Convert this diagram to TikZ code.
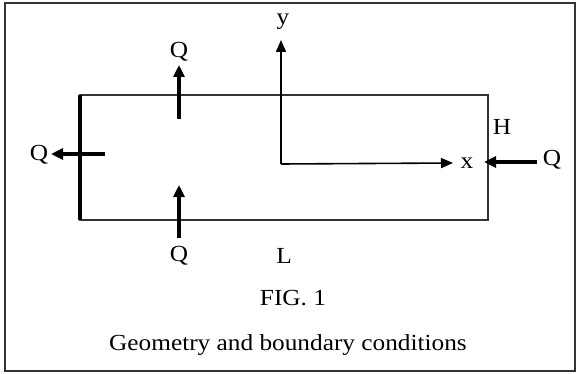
\documentclass[tikz,border=0pt]{standalone}
\usepackage{fontspec}
\setmainfont[FakeStretch=1.1]{Liberation Serif}
\usetikzlibrary{arrows.meta}
\begin{document}
\begin{tikzpicture}[x=1pt,y=-1pt,
  lbl/.style={font=\fontsize{23}{26}\selectfont, inner sep=0pt},
  qarrow/.style={line width=3.1pt, -{Triangle[length=12pt,width=11pt]}},
  axis/.style={line width=1.6pt, -{Triangle[length=12pt,width=10pt]}},
  plate/.style={line width=1.4pt, draw=black!80}]
\useasboundingbox (0,0) rectangle (580,374);
\draw[line width=1.6pt, draw=black!80] (5,3) rectangle (575,371);
% plate
\coordinate (tl) at (80,95);
\coordinate (br) at (488,220);
\coordinate (bl) at (80,220);
\draw[plate] (tl) rectangle (br);
\draw[line width=3.8pt, line cap=butt] (tl) -- (bl);
% axes
\coordinate (o) at (281,164);
\coordinate (yt) at (281,40);
\coordinate (xt) at (453,163);
\draw[axis] (o) -- (yt);
\draw[axis] (o) -- (xt);
\node[lbl] (ylab) at (283,22) {y};
\node[lbl] (xlab) at (467,163) {x};
% labels
\node[lbl] (qtop) at (179,52) {Q};
\node[lbl] (qbot) at (179,256) {Q};
\node[lbl] (qleft) at (39,155) {Q};
\node[lbl] (qright) at (552,160) {Q};
\node[lbl] (hlab) at (502,127) {H};
\node[lbl] (llab) at (284,256) {L};
\node[lbl] (fig) at (293,298) {FIG.\ 1};
\node[lbl] (cap) at (288,345) {Geometry and boundary conditions};
% Q arrows
\coordinate (qts) at (179,119);
\coordinate (qtt) at (179,65);
\draw[qarrow] (qts) -- (qtt);
\coordinate (qbs) at (179,238);
\coordinate (qbt) at (179,185);
\draw[qarrow] (qbs) -- (qbt);
\coordinate (qls) at (105,154);
\coordinate (qlt) at (51,154);
\draw[qarrow] (qls) -- (qlt);
\coordinate (qrs) at (537,162);
\coordinate (qrt) at (484,162);
\draw[qarrow] (qrs) -- (qrt);
\end{tikzpicture}
\end{document}
